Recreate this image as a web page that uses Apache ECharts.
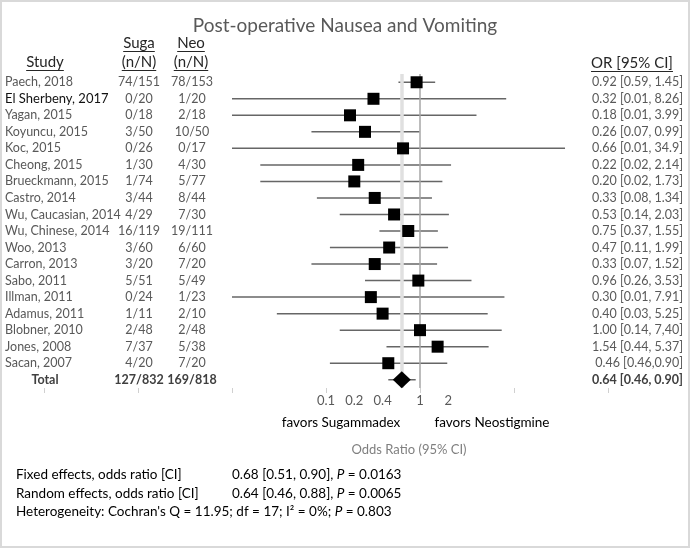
<!DOCTYPE html>
<html><head><meta charset="utf-8">
<script src="https://cdn.jsdelivr.net/npm/echarts@6/dist/echarts.min.js"></script>
<style>html,body{margin:0;padding:0;background:#fff}#c{width:690px;height:548px}</style>
</head><body><div id="c"></div>
<script>
// ---------- data ----------
const studies = ['Paech, 2018','El Sherbeny, 2017','Yagan, 2015','Koyuncu, 2015','Koc, 2015','Cheong, 2015','Brueckmann, 2015','Castro, 2014','Wu, Caucasian, 2014','Wu, Chinese, 2014','Woo, 2013','Carron, 2013','Sabo, 2011','Illman, 2011','Adamus, 2011','Blobner, 2010','Jones, 2008','Sacan, 2007','Total'];
const sugaCounts = ['74/151','0/20','0/18','3/50','0/26','1/30','1/74','3/44','4/29','16/119','3/60','3/20','5/51','0/24','1/11','2/48','7/37','4/20','127/832'];
const neoCounts = ['78/153','1/20','2/18','10/50','0/17','4/30','5/77','8/44','7/30','19/111','6/60','7/20','5/49','1/23','2/10','2/48','5/38','7/20','169/818'];
const orValues = [0.92,0.32,0.18,0.26,0.66,0.22,0.20,0.33,0.53,0.75,0.47,0.33,0.96,0.30,0.40,1.00,1.54,0.46,0.64];
const ciLow  = [0.59,0.01,0.01,0.07,0.01,0.02,0.02,0.08,0.14,0.37,0.11,0.07,0.26,0.01,0.03,0.14,0.44,0.11,0.46];
const ciHigh = [1.45,8.26,3.99,0.99,34.9,2.14,1.73,1.34,2.03,1.55,1.99,1.52,3.53,7.91,5.25,7.40,5.37,1.95,0.90];
const orLabels = ['0.92 [0.59, 1.45]','0.32 [0.01, 8.26]','0.18 [0.01, 3.99]','0.26 [0.07, 0.99]','0.66 [0.01, 34.9]','0.22 [0.02, 2.14]','0.20 [0.02, 1.73]','0.33 [0.08, 1.34]','0.53 [0.14, 2.03]','0.75 [0.37, 1.55]','0.47 [0.11, 1.99]','0.33 [0.07, 1.52]','0.96 [0.26, 3.53]','0.30 [0.01, 7.91]','0.40 [0.03, 5.25]','1.00 [0.14, 7,40]','1.54 [0.44, 5.37]','0.46 [0.46,0.90]','0.64 [0.46, 0.90]'];
const xTickLabels = [0.1, 0.2, 0.4, 1, 2];
const xTickMarks = [0.0001, 0.001, 0.01, 0.1, 1, 10, 100];
const pooledOR = 0.64;
const nullOR = 1;
const statLabels = ['Fixed effects, odds ratio [CI]','Random effects, odds ratio [CI]'];
const statValues = [['0.68 [0.51, 0.90], ','P',' = 0.0163'],['0.64 [0.46, 0.88], ','P',' = 0.0065']];
const heterogeneity = ["Heterogeneity: Cochran's Q = 11.95; df = 17; I\u00B2 = 0%; ",'P',' = 0.803'];

// ---------- chart ----------
const FONT = 'Lato, "Open Sans", sans-serif';
const GRAY = '#595959';
const FS = 12.5;
const chart = echarts.init(document.getElementById('c'), null, {renderer:'canvas'});
const rowIdx = studies.map((s,i)=>i);
const totalIdx = studies.length - 1;

const ctx = document.createElement('canvas').getContext('2d');
function tw(font, s){ ctx.font = font; return ctx.measureText(s).width; }

function rich(){
  return {
    n:{fontFamily:FONT,fontSize:FS,color:GRAY},
    k:{fontFamily:FONT,fontSize:13,color:'#111'},
    b:{fontFamily:FONT,fontSize:FS,color:'#404040',fontWeight:'bold'},
    t:{fontFamily:FONT,fontSize:FS,color:'#404040',fontWeight:'bold',width:80,align:'center'}
  };
}
function fmt(arr){
  return function(v, i){
    const t = arr[i];
    if (i === totalIdx) return (arr === studies ? '{t|' : '{b|') + t + '}';
    if (arr === studies && i === 1) return '{k|' + t + '}';
    return '{n|' + t + '}';
  };
}
function yAx(arr, pos, align, margin){
  return {
    type:'category', data:studies, inverse:true, position:pos, gridIndex:0,
    axisLine:{show:false}, axisTick:{show:false}, splitLine:{show:false},
    axisLabel:{interval:0, align:align, margin:margin, formatter:fmt(arr), rich:rich()}
  };
}
const gridLeft = 44, gridRightX = 608;

function header(text, cx, cy, size){
  const font = size + 'px ' + FONT;
  const w = tw(font, text);
  return [
    {type:'text', style:{text:text, x:cx, y:cy, textAlign:'center', textVerticalAlign:'middle', font:font, fill:'#262626'}},
    {type:'line', shape:{x1:cx-w/2, y1:cy+size/2+1, x2:cx+w/2, y2:cy+size/2+1}, style:{stroke:'#262626', lineWidth:1}}
  ];
}
const statRich = {
  n:{fontFamily:FONT,fontSize:13.5,color:'#000'},
  i:{fontFamily:FONT,fontSize:13.5,color:'#000',fontStyle:'italic'}
};
const graphics = [
  {type:'rect', shape:{x:1,y:1,width:688,height:546}, style:{fill:'none', stroke:'#d9d9d9', lineWidth:2}},
  ...header('Study', 45, 62, 15),
  ...header('Suga', 139, 43, 15),
  ...header('(n/N)', 139, 62, 15),
  ...header('Neo', 191, 43, 15),
  ...header('(n/N)', 191, 62, 15),
  ...header('OR [95% CI]', 632, 63, 15),
  {type:'text', style:{text:'favors Sugammadex', x:341, y:423, textAlign:'center', textVerticalAlign:'middle', font:'13.5px '+FONT, fill:'#000'}},
  {type:'text', style:{text:'favors Neostigmine', x:492, y:423, textAlign:'center', textVerticalAlign:'middle', font:'13.5px '+FONT, fill:'#000'}},
  {type:'text', style:{text:'Odds Ratio (95% CI)', x:409, y:450, textAlign:'center', textVerticalAlign:'middle', font:'13px '+FONT, fill:'#7f7f7f'}}
];
statLabels.forEach((s,k)=>{
  const y = 475 + k*18.5;
  graphics.push({type:'text', style:{text:'{n|'+s+'}', rich:statRich, x:16, y:y, textVerticalAlign:'middle'}});
  const v = statValues[k];
  graphics.push({type:'text', style:{text:'{n|'+v[0]+'}{i|'+v[1]+'}{n|'+v[2]+'}', rich:statRich, x:232, y:y, textVerticalAlign:'middle'}});
});
graphics.push({type:'text', style:{text:'{n|'+heterogeneity[0]+'}{i|'+heterogeneity[1]+'}{n|'+heterogeneity[2]+'}', rich:statRich, x:16, y:512, textVerticalAlign:'middle'}});

const barData = rowIdx.map(i=>[ciLow[i], ciHigh[i], i]);
const squareData = rowIdx.filter(i=>i!==totalIdx).map(i=>[orValues[i], i]);
const totalData = [[orValues[totalIdx], totalIdx]];

chart.setOption({
  backgroundColor:'#fff',
  animation:false,
  title:{text:'Post-operative Nausea and Vomiting', left:'center', top:11,
    textStyle:{fontFamily:FONT, fontSize:19, fontWeight:'normal', color:GRAY}},
  grid:{left:gridLeft, right:690-gridRightX, top:74, bottom:160, containLabel:false},
  xAxis:{type:'log', logBase:10, min:0.0001, max:100,
    axisLine:{lineStyle:{color:'#d0d0d0', width:1}},
    axisTick:{show:true, length:5, lineStyle:{color:'#d0d0d0'}, customValues:xTickMarks},
    splitLine:{show:false}, minorTick:{show:false},
    axisLabel:{customValues:xTickLabels, margin:6, fontFamily:FONT, fontSize:13, color:GRAY,
      formatter:function(v){ return String(parseFloat(Number(v).toPrecision(6))); }}
  },
  yAxis:[
    yAx(studies, 'left', 'left', gridLeft-5),
    yAx(sugaCounts, 'left', 'center', gridLeft-139),
    yAx(neoCounts, 'left', 'center', gridLeft-192),
    yAx(orLabels, 'right', 'right', 683-gridRightX)
  ],
  graphic:graphics,
  series:[
    {type:'custom', z:2, xAxisIndex:0, yAxisIndex:0, data:barData, silent:true,
      renderItem:function(params, api){
        const a = api.coord([api.value(0), api.value(2)]);
        const b = api.coord([api.value(1), api.value(2)]);
        return {type:'line', shape:{x1:a[0], y1:a[1], x2:b[0], y2:b[1]}, style:{stroke:'#666', lineWidth:1.5}};
      }},
    {type:'scatter', z:3, data:[], silent:true,
      markLine:{z:3, silent:true, symbol:'none', label:{show:false},
        data:[
          {xAxis:pooledOR, lineStyle:{color:'#e0e0e0', width:3.5, type:'solid', opacity:1}},
          {xAxis:nullOR, lineStyle:{color:'#a6a6a6', width:1.5, type:'solid', opacity:1}}
        ]}},
    {type:'scatter', z:10, symbol:'rect', symbolSize:12, data:squareData, itemStyle:{color:'#000', opacity:1}, silent:true},
    {type:'scatter', z:10, symbol:'diamond', symbolSize:[18,17], data:totalData, itemStyle:{color:'#000', opacity:1}, silent:true}
  ]
});
</script></body></html>
